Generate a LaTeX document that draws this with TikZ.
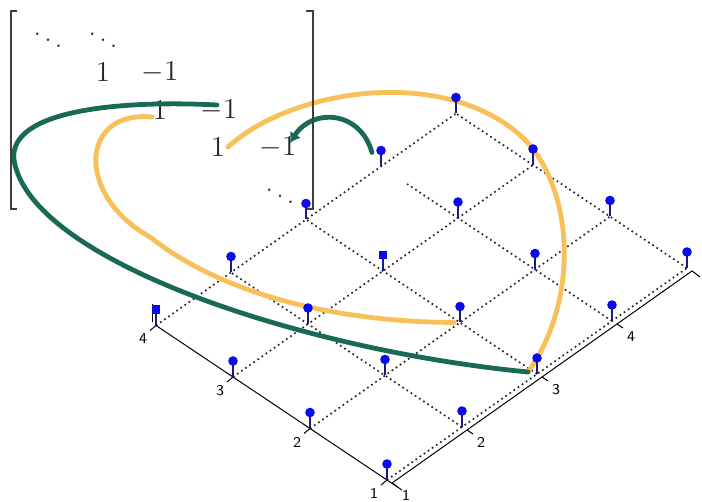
\documentclass[tikz,border=0pt]{standalone}
\usepackage{amsmath,amssymb}
\usepackage{tikz}
\usetikzlibrary{arrows.meta,calc}
\definecolor{mygreen}{RGB}{24,106,86}
\definecolor{myorange}{RGB}{247,192,88}
\definecolor{mystem}{RGB}{25,25,140}
\definecolor{myblue}{RGB}{10,10,235}

\begin{document}
\begin{tikzpicture}[x=0.5pt,y=-0.5pt,>={Latex[length=5pt,width=6.5pt]},
  entry/.style={inner sep=0pt,font=\fontsize{15}{18}\selectfont,text=black!85},
  gridline/.style={line width=0.85pt,dash pattern=on 0.85pt off 1.65pt,black!85},
  axisline/.style={line width=0.5pt,black},
  ticklabel/.style={inner sep=0pt,font=\sffamily\fontsize{7.5}{9}\selectfont},
  stemline/.style={line width=0.6pt,mystem},
  stemdot/.style={circle,fill=myblue,inner sep=0pt,minimum size=4.8pt},
  stemsq/.style={rectangle,fill=myblue,inner sep=0pt,minimum size=4.4pt},
  linkg/.style={line width=2.4pt,mygreen,line cap=round},
  linko/.style={line width=2.4pt,myorange,line cap=round},
  bracket/.style={line width=0.7pt,black!75}]
\useasboundingbox (0,0) rectangle (702,502);

\foreach \i in {1,...,4}
  \foreach \j in {1,...,5}
    \coordinate (b\i\j) at ({387-77*(\i-1)+75*(\j-1)},{480-51.5*(\i-1)-53*(\j-1)});
\foreach \j in {1,...,5}
  \coordinate (r\j) at ({392+75*(\j-1)},{483-53*(\j-1)});

% mesh
\foreach \i in {1,...,4} \draw[gridline] (b\i1) -- (b\i5);
\foreach \j in {2,3,5} \draw[gridline] (b1\j) -- (b4\j);
\draw[gridline] (b14) -- ($(b14)!0.887!(b44)$);

% axes
\draw[axisline] (b41) -- ($(b41)!1.065!(b11)$);
\draw[axisline] (r1) -- (r5) -- ++(8,6);
\draw[axisline] (b41) ++(-4,-3) -- ++(0,-18);
\foreach \i in {1,...,4} {
  \draw[axisline] (b\i1) -- ++(-6,5);
  \node[ticklabel] (lx\i) at ($(b\i1)+(-13,13.5)$) {\i};
}
\foreach \j in {1,...,4} {
  \draw[axisline] (r\j) -- ++(6,4);
  \node[ticklabel] (ly\j) at ($(r\j)+(14,12.5)$) {\j};
}

% matrix
\node[entry] (d11) at (48,34) {$\ddots$};
\node[entry] (d12) at (103,34) {$\ddots$};
\node[entry] (m22) at (103,72) {$1$};
\node[entry] (m23) at (160,72) {$-1$};
\node[entry] (m33) at (160,110) {$1$};
\node[entry] (m34) at (219,110) {$-1$};
\node[entry] (m44) at (218,147) {$1$};
\node[entry] (m45) at (278,147) {$-1$};
\node[entry] (d55) at (280,190) {$\ddots$};

\coordinate (e13) at ($(b13)+(-9,-2)$);
\coordinate (e23) at ($(b23)+(-6,0)$);
\coordinate (e44) at ($(b44)+(-9,-14)$);

\draw[linko] ($(m44)+(10,0)$) .. controls (290,90) and (440,65) .. (520,135)
  .. controls (575,185) and (580,300) .. (e13);
\draw[linko] ($(m33)+(-8,7)$) .. controls (80,110) and (75,195) .. (150,237)
  .. controls (230,300) and (350,322) .. (e23);
\draw[linkg] (e13) .. controls (300,350) and (30,260) .. (14,160)
  .. controls (8,110) and (120,100) .. ($(m34)+(-2,-5)$);
\draw[linkg,->] (e44) .. controls (360,110) and (312,108) .. ($(m45)+(12,-4)$);

\draw[bracket] (17,11) -- (11,11) -- (11,209) -- (17,209);
\draw[bracket] (306,11) -- (313,11) -- (313,209) -- (306,209);

% stems
\foreach \i in {1,...,4}
  \foreach \j in {1,...,5} {
    \def\mk{stemdot}
    \ifnum\i\j=41 \def\mk{stemsq}\fi
    \ifnum\i\j=33 \def\mk{stemsq}\fi
    \draw[stemline] (b\i\j) -- ++(0,-16) node[\mk] (s\i\j) {};
  }
\end{tikzpicture}
\end{document}
